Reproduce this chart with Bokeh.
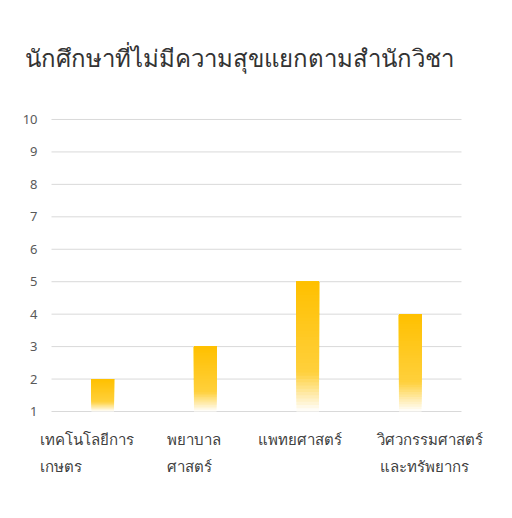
from bokeh.plotting import figure
from bokeh.models import ColumnDataSource, FactorRange, Range1d
from bokeh.embed import file_html
from bokeh.resources import INLINE

title_text = "นักศึกษาที่ไม่มีความสุขแยกตามสำนักวิชา"
categories = ["เทคโนโลยีการเกษตร", "พยาบาลศาสตร์", "แพทยศาสตร์", "วิศวกรรมศาสตร์และทรัพยากร"]
tick_lines = [["เทคโนโลยีการ", "เกษตร"], ["พยาบาล", "ศาสตร์"], ["แพทยศาสตร์"], ["วิศวกรรมศาสตร์", "และทรัพยากร"]]
values = [2, 3, 5, 4]
y_ticks = [1, 2, 3, 4, 5, 6, 7, 8, 9, 10]
y_min = 1

# gradient stops (fraction from bottom, rgb)
stops = [(0.0, (255, 255, 255)), (0.3, (255, 208, 60)), (1.0, (255, 192, 0))]

def grad_color(t):
    for (t0, c0), (t1, c1) in zip(stops[:-1], stops[1:]):
        if t0 <= t <= t1:
            f = (t - t0) / (t1 - t0)
            c = [round(a + (b - a) * f) for a, b in zip(c0, c1)]
            return "#%02x%02x%02x" % tuple(c)
    return "#ffc000"

N = 40
xs, bots, tops, cols = [], [], [], []
for i in range(N):
    for cat, v in zip(categories, values):
        h = v - y_min
        xs.append(cat)
        bots.append(y_min + h * i / N)
        tops.append(v)
        cols.append(grad_color((i + 0.5) / N))
src = ColumnDataSource(dict(x=xs, bottom=bots, top=tops, color=cols))

p = figure(width=512, height=518,
           x_range=FactorRange(*categories, range_padding=0.2488),
           y_range=Range1d(-1.435, 10.585), output_backend="svg", toolbar_location=None,
           min_border_left=0, min_border_right=0, min_border_top=100, min_border_bottom=28)

p.title.text = title_text
p.title.text_font = "Noto Sans"
p.title.text_font_size = "24px"
p.title.text_font_style = "normal"
p.title.text_color = "#333333"
p.title.offset = 24
p.title.standoff = 54

p.outline_line_color = None
p.background_fill_color = "white"
p.border_fill_color = "white"
p.xaxis.visible = False
p.yaxis.visible = False
p.xgrid.grid_line_color = None
p.ygrid.grid_line_color = None

# horizontal gridlines spanning the category band (synthetic coords 0 .. n)
n = len(categories)
gsrc = ColumnDataSource(dict(x0=[0] * len(y_ticks), x1=[n] * len(y_ticks), y=y_ticks,
                             lab=[str(t) for t in y_ticks]))
p.segment(x0="x0", y0="y", x1="x1", y1="y", source=gsrc, line_color="#d9d9d9", line_width=1)
p.text(x="x0", y="y", text="lab", source=gsrc, x_offset=-14, text_align="right",
       text_baseline="middle", text_font_size="13px", text_color="#595959",
       text_font={"value": "Noto Sans"})

p.vbar(x="x", bottom="bottom", top="top", width=0.22, fill_color="color", line_color=None, source=src)

# wrapped category labels
offsets = [[-63, -63], [-38, -38], [-50], [-33, -30]]
lx, ly, lt, lxo, lyo = [], [], [], [], []
for cat, lines, offs in zip(categories, tick_lines, offsets):
    for j, (ln, dx) in enumerate(zip(lines, offs)):
        lx.append(cat)
        ly.append(y_min)
        lt.append(ln)
        lxo.append(dx)
        lyo.append(20 + 27 * j)
lsrc = ColumnDataSource(dict(x=lx, y=ly, text=lt, xo=lxo, yo=lyo))
p.text(x="x", y="y", text="text", x_offset="xo", y_offset="yo", source=lsrc,
       text_align="left", text_baseline="top", text_font_size="15px", text_color="#404040")

open("out.html", "w").write(file_html(p, INLINE))
